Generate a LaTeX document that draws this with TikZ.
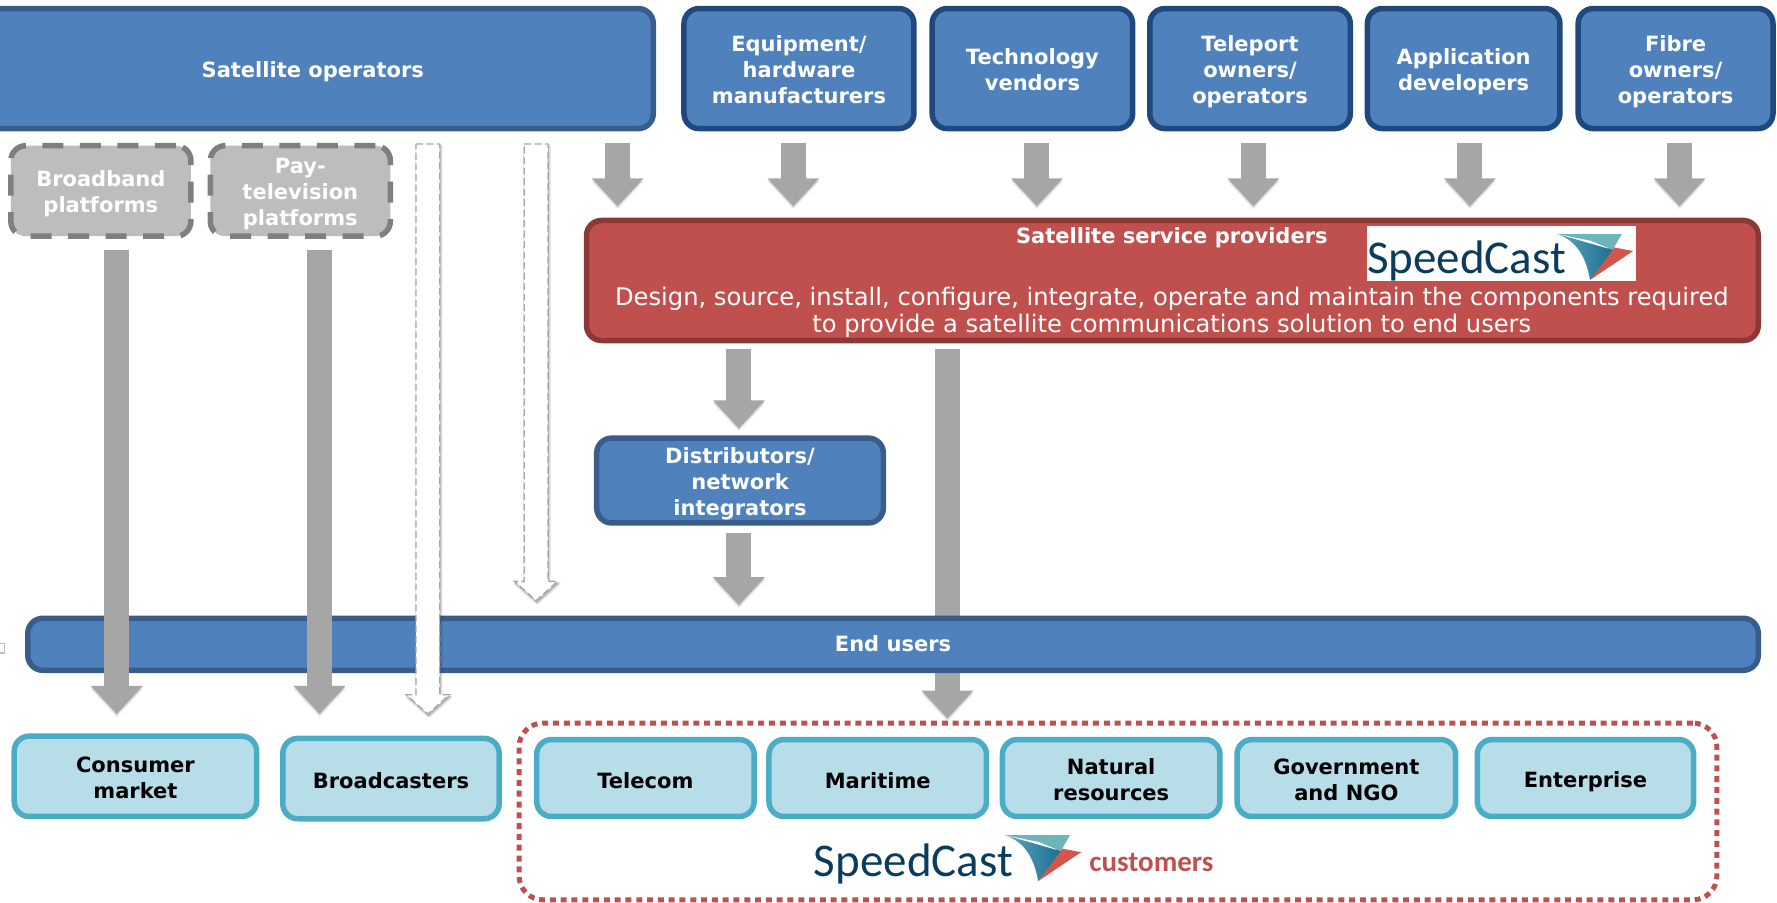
\documentclass[tikz,border=0pt]{standalone}
\usepackage{fontspec}
\setmainfont{DejaVu Sans}
\newfontfamily\logofont{Carlito}
\usetikzlibrary{arrows.meta,calc}
\definecolor{bluefill}{HTML}{4F81BD}
\definecolor{blueedge}{HTML}{385D8A}
\definecolor{navyedge}{HTML}{1F497D}
\definecolor{redfill}{HTML}{C0504D}
\definecolor{rededge}{HTML}{8C3836}
\definecolor{cyanfill}{HTML}{B7DDE8}
\definecolor{cyanedge}{HTML}{4BACC6}
\definecolor{greyfill}{HTML}{BDBDBD}
\definecolor{greyedge}{HTML}{7F7F7F}
\definecolor{arrowgrey}{HTML}{A6A6A6}
\definecolor{logonavy}{HTML}{0B3C5D}
\definecolor{logoteal}{HTML}{6DB5BB}
\definecolor{logoblue}{HTML}{1C6F92}
\definecolor{logobluel}{HTML}{5FA3BE}
\definecolor{logored}{HTML}{D2574A}
\newcommand{\vstrut}{\rule[-3pt]{0pt}{26pt}}
\newcommand{\mtop}{\rule{0pt}{21.6pt}}
\newcommand{\mbot}{\rule[-3pt]{0pt}{3pt}}
\tikzset{
  x=1.1333pt,y=-1.1333pt,
  boxbase/.style={rounded corners=15pt,align=center,inner sep=0pt,line width=5.5pt,
    font=\fontsize{21}{26}\bfseries\selectfont,
    execute at begin node=\vstrut,execute at end node=\vstrut},
  barline/.style={execute at begin node={\rule[-7.6pt]{0pt}{1pt}}},
  bluebox/.style={boxbase,draw=navyedge,fill=bluefill,text=white},
  opbox/.style={boxbase,draw=blueedge,fill=bluefill,text=white},
  redbox/.style={boxbase,draw=rededge,fill=redfill,text=white},
  custbox/.style={boxbase,draw=cyanedge,fill=cyanfill,text=black},
  dashbox/.style={boxbase,draw=greyedge,fill=greyfill,text=white,dash pattern=on 21pt off 16.5pt},
  dotbox/.style={draw=redfill,rounded corners=24pt,line width=5pt,dash pattern=on 6pt off 4.8pt},
  blockarrow/.style={line width=25pt,draw=arrowgrey,-{Triangle[width=50pt,length=28pt]}},
  hollowarrow/.style={draw=arrowgrey,fill=white,line width=1.3pt,dash pattern=on 7pt off 3.5pt},
  softshade/.style={opacity=.09,fill=black,draw=black,line width=#1,line join=round},
}
\newcommand{\boxat}[5]{\node[#1,minimum width={(#4-(#2))*1.1333pt-3.5pt},minimum height={(#5-(#3))*1.1333pt-3.5pt},anchor=center] at ({(#2+#4)/2},{(#3+#5)/2})}
\newcommand{\hollowpath}[4]{($(#1)+(-#3,0)$) -- ($(#1)+(#3,0)$) -- ($(#2)+(#3,-17)$) -- ($(#2)+(#4,-17)$) -- (#2) -- ($(#2)+(-#4,-17)$) -- ($(#2)+(-#3,-17)$) -- cycle}
\newcommand{\hollow}[4]{% start, tip; half shaft #3, half head #4
  \draw[softshade=4pt,transform canvas={xshift=1pt,yshift=-2pt}] \hollowpath{#1}{#2}{#3}{#4};
  \draw[softshade=1.5pt,transform canvas={xshift=1pt,yshift=-2pt}] \hollowpath{#1}{#2}{#3}{#4};
  \draw[hollowarrow] \hollowpath{#1}{#2}{#3}{#4};}
\newcommand{\blockar}[2]{%
  \draw[blockarrow,draw=black!30,opacity=.3,transform canvas={yshift=-3pt}] (#1) -- (#2);
  \draw[blockarrow,draw=black!30,opacity=.3,transform canvas={yshift=-1.5pt}] (#1) -- (#2);
  \draw[blockarrow] (#1) -- (#2);}
\newcommand{\speedlogo}[2]{%
  \begin{scope}[shift={(#1,#2)}]
    \fill[logored] (46,11) -- (67,15) -- (29,40.5) -- cycle;
    \shade[left color=logobluel,right color=logoblue] (0,0) .. controls (18,6) and (26,22) .. (29,40.5) -- (49,14) -- cycle;
    \fill[logoteal] (0,0) -- (57,0) -- (49,14) -- (30,6) -- cycle;
  \end{scope}}
\begin{document}
\begin{tikzpicture}
\useasboundingbox (0,0) rectangle (1568,796);
% small grey fragment at the left edge
\draw[draw=greyfill,line width=1.5pt] (-3,568) rectangle (4,576);

% arrow running behind the end-users bar
\coordinate (i s) at (836,308); \coordinate (i t) at (836,634);
\blockar{i s}{i t}

% top row
\boxat{opbox}{-26}{6}{578}{115} (sat) {Satellite operators};
\boxat{bluebox}{602}{6}{808}{115} (equip) {\mtop Equipment/\\hardware\\manufacturers\mbot};
\boxat{bluebox}{821}{6}{1001}{115} (tech) {\mtop Technology\\vendors\mbot};
\boxat{bluebox}{1013}{6}{1193}{115} (tele) {\mtop Teleport\\owners/\\operators\mbot};
\boxat{bluebox}{1205}{6}{1378}{115} (app) {\mtop Application\\developers\mbot};
\boxat{bluebox}{1391}{6}{1566}{115} (fibre) {\mtop Fibre\\owners/\\operators\mbot};

% dashed platforms
\boxat{dashbox}{8}{127}{170}{210} (broad) {\mtop Broadband\\platforms\mbot};
\boxat{dashbox}{184}{127}{346}{210} (pay) {\mtop Pay-\\television\\platforms\mbot};

% end users
\boxat{opbox,barline}{23}{544}{1553}{593} (end) {End users};

% red box
\node[redbox,minimum width={1037*1.1333pt-3.5pt},minimum height={109*1.1333pt-3.5pt},execute at begin node=,execute at end node=] (ssp) at (1034.5,247.5) {};
\node[font=\fontsize{21}{26}\bfseries\selectfont,text=white,inner sep=0pt] (ssptitle) at (1034,210) {Satellite service providers};
\node[font=\fontsize{24.2}{27.5}\selectfont,text=white,align=center,inner sep=0pt] (sspdesc) at (1034,275.5) {Design, source, install, configure, integrate, operate and maintain the components required\\to provide a satellite communications solution to end users};
\node[fill=white,minimum width=238*1.1333pt,minimum height=49*1.1333pt,inner sep=0pt] (logobg) at (1325,223.5) {};
\speedlogo{1374}{206.5}
\node[font=\fontsize{47}{47}\logofont\selectfont,text=logonavy,inner sep=0pt] (logotxt) at (1294,230) {SpeedCast};

% distributors
\boxat{opbox}{525}{385}{781}{463} (dist) {\mtop Distributors/\\network\\integrators\mbot};

% customers
\boxat{custbox}{11}{648}{228}{722} (cons) {\mtop Consumer\\market\mbot};
\boxat{custbox}{248}{650}{442}{724} (bcast) {Broadcasters};
\boxat{custbox}{472}{651}{667}{722} (telecom) {Telecom};
\boxat{custbox}{677}{651}{872}{722} (mari) {Maritime};
\boxat{custbox}{883}{651}{1078}{722} (nat) {\mtop Natural\\resources\mbot};
\boxat{custbox}{1090}{651}{1286}{722} (gov) {\mtop Government\\and NGO\mbot};
\boxat{custbox}{1302}{651}{1496}{722} (ent) {Enterprise};

% customers frame
\node[dotbox,minimum width=1057*1.1333pt,minimum height=156*1.1333pt,inner sep=0pt] (frame) at (986.5,716) {};
\speedlogo{887}{737}
\node[font=\fontsize{47}{47}\logofont\selectfont,text=logonavy,inner sep=0pt] (logotxtb) at (806,762) {SpeedCast};
\node[font=\fontsize{29}{29}\logofont\bfseries\selectfont,text=redfill,inner sep=0pt] (custtxt) at (1016,761) {customers};

% arrow end points
\foreach \n/\x in {a/545,b/700,c/915,d/1106,e/1297,f/1482}{
  \coordinate (\n s) at (\x,126);
  \coordinate (\n t) at (\x,182);
  \blockar{\n s}{\n t}
}
\coordinate (g s) at (652,308); \coordinate (g t) at (652,378);
\coordinate (h s) at (652,470); \coordinate (h t) at (652,534);
\coordinate (j s) at (103,221); \coordinate (j t) at (103,630);
\coordinate (k s) at (282,221); \coordinate (k t) at (282,630);
\blockar{g s}{g t}
\blockar{h s}{h t}
\blockar{j s}{j t}
\blockar{k s}{k t}
\coordinate (l s) at (377.5,127); \coordinate (l t) at (377.5,630);
\coordinate (m s) at (473,127); \coordinate (m t) at (473,530);
\hollow{l s}{l t}{10.5}{19}
\hollow{m s}{m t}{10.5}{19}
\end{tikzpicture}
\end{document}
